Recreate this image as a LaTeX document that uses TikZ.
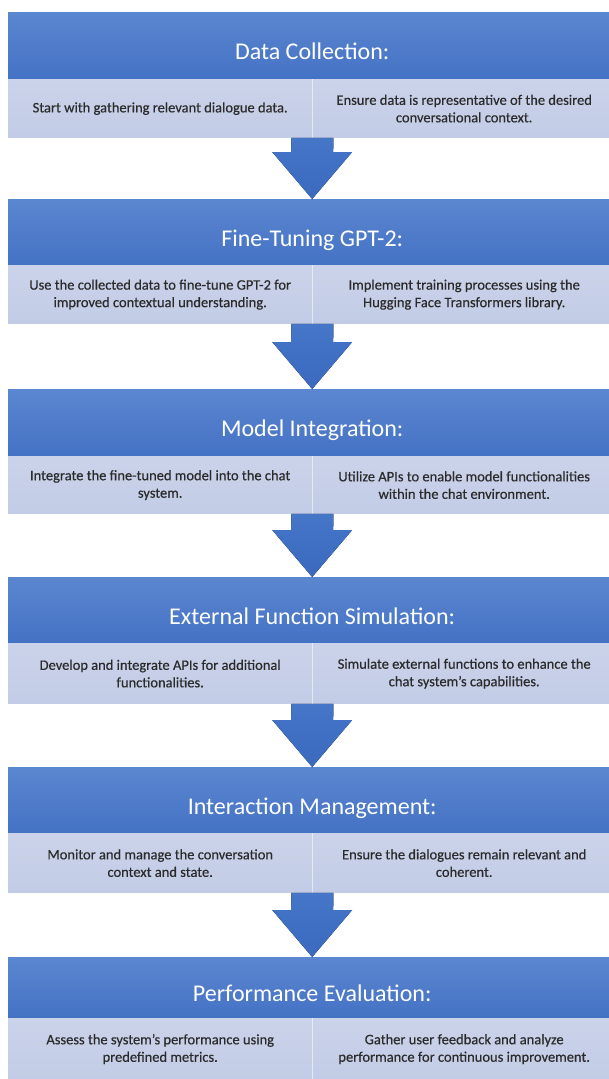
\documentclass[tikz,border=0pt]{standalone}
\usepackage{fontspec}
\setmainfont{Carlito}
\newfontface\cellfont{Carlito}[FakeBold=0.4]
\usetikzlibrary{calc,shadows.blur,backgrounds}

\definecolor{hdrtop}{HTML}{5B86D0}
\definecolor{hdrbot}{HTML}{4472C4}
\definecolor{celltop}{HTML}{CBD3EA}
\definecolor{cellbot}{HTML}{C3CCE6}
\definecolor{arrowtop}{HTML}{4576C8}
\definecolor{arrowbot}{HTML}{3A69BE}
\definecolor{celltext}{HTML}{2B2B2B}

\tikzset{
  x=1pt, y=-1pt,
  header/.style={rectangle, inner sep=0pt, minimum width=608pt,
    minimum height=#1, top color=hdrtop, bottom color=hdrbot,
    text=white, font=\fontsize{24}{28}\selectfont,
    text height=28pt, text depth=0pt, anchor=north west},
  cell/.style={rectangle, inner sep=0pt, minimum width=304pt,
    minimum height=#1, top color=celltop, bottom color=cellbot,
    text=celltext, align=center,
    font=\cellfont\fontsize{14.5}{17.5}\selectfont},
  backdrop/.style={fill=white, blur shadow={shadow xshift=0pt,
    shadow yshift=-3pt, shadow blur radius=3pt, shadow opacity=45}},
  divider/.style={draw=white, opacity=0.55, line width=0.8pt},
  flowarrow/.style={top color=arrowtop, bottom color=arrowbot, draw=none},
}

% one stage: #1 id, #2 top, #3 header height, #4 body height,
% #5 title, #6 left text, #7 right text
\newcommand\stage[7]{%
  \node[header=#3] (h#1) at (8,#2) {#5};
  \node[cell=#4, anchor=north west] (l#1) at (h#1.south west) {#6};
  \node[cell=#4, anchor=north east] (r#1) at (h#1.south east) {#7};
  \draw[divider] (l#1.north east) -- (l#1.south east);
  \begin{pgfonlayer}{background}
    \path[backdrop] (h#1.north west) rectangle (r#1.south east);
  \end{pgfonlayer}
}

% block arrow from the bottom of one stage to the top of the next
\newcommand\stagearrow[2]{%
  \fill[flowarrow]
    ($(l#1.south east)+(-21,0)$) -- ($(l#1.south east)+(21,0)$)
    -- ($(h#2.north)+(21,-47)$) -- ($(h#2.north)+(40,-47)$)
    -- (h#2.north)
    -- ($(h#2.north)+(-40,-47)$) -- ($(h#2.north)+(-21,-47)$) -- cycle;
}

\begin{document}
\begin{tikzpicture}
\useasboundingbox[fill=white] (0,0) rectangle (609,1079);

\stage{1}{12}{67}{58}{Data Collection:}
  {Start with gathering relevant dialogue data.}
  {Ensure data is representative of the desired\\conversational context.}
\stage{2}{199}{66}{58}{Fine-Tuning GPT-2:}
  {Use the collected data to fine-tune GPT-2 for\\improved contextual understanding.}
  {Implement training processes using the\\Hugging Face Transformers library.}
\stage{3}{389}{67}{57}{Model Integration:}
  {Integrate the fine-tuned model into the chat\\system.}
  {Utilize APIs to enable model functionalities\\within the chat environment.}
\stage{4}{577}{66}{60}{External Function Simulation:}
  {Develop and integrate APIs for additional\\functionalities.}
  {Simulate external functions to enhance the\\chat system’s capabilities.}
\stage{5}{767}{66}{59}{Interaction Management:}
  {Monitor and manage the conversation\\context and state.}
  {Ensure the dialogues remain relevant and\\coherent.}
\stage{6}{957}{61}{61}{Performance Evaluation:}
  {Assess the system’s performance using\\predefined metrics.}
  {Gather user feedback and analyze\\performance for continuous improvement.}

\stagearrow{1}{2}
\stagearrow{2}{3}
\stagearrow{3}{4}
\stagearrow{4}{5}
\stagearrow{5}{6}
\end{tikzpicture}
\end{document}
